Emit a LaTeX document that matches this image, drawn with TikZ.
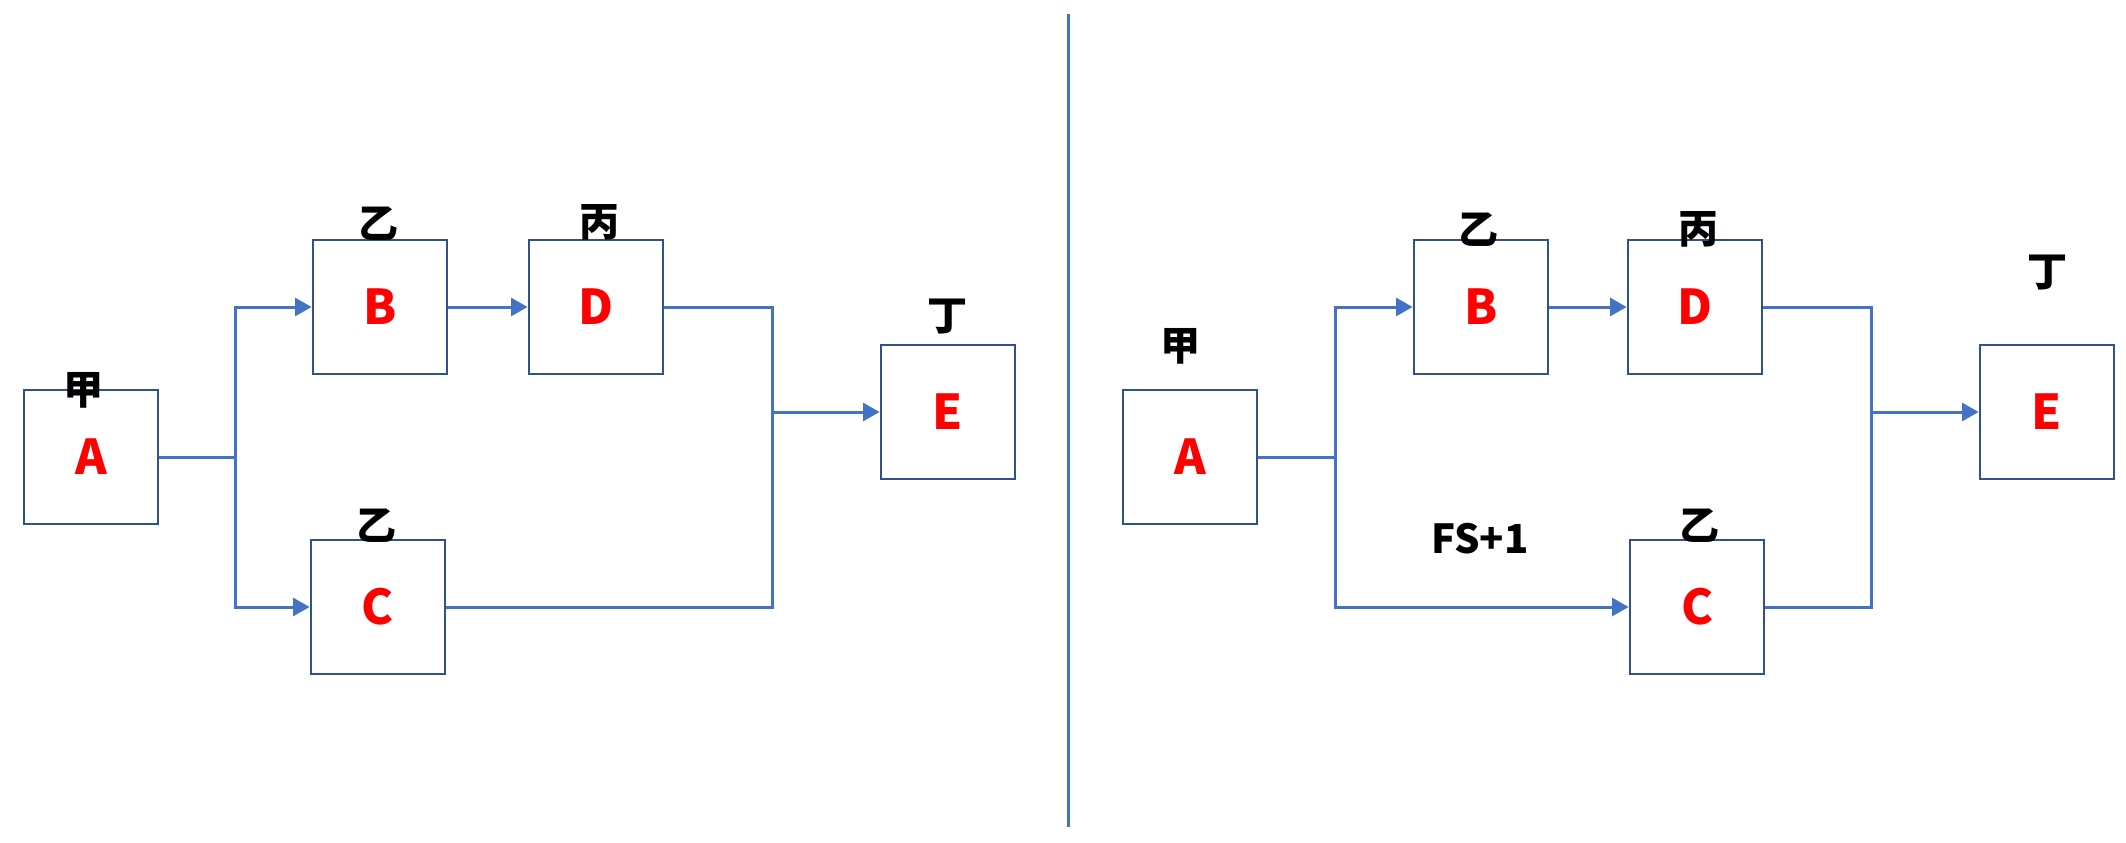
\documentclass[tikz,border=0pt]{standalone}
\usepackage{fontspec}
\setmainfont{Noto Sans CJK SC}
\usetikzlibrary{arrows.meta}
\definecolor{linec}{RGB}{68,114,196}
\definecolor{boxc}{RGB}{47,82,143}
\begin{document}
\begin{tikzpicture}
	[x=0.75pt,y=-0.75pt,%
	  task/.style={shape=rectangle,draw=boxc,line width=1.5pt,minimum width=101pt,minimum height=101pt,
	    inner sep=0pt,text=red,font=\fontsize{36}{36}\selectfont\bfseries},
	  tag/.style={inner sep=0pt,font=\fontsize{30}{30}\selectfont\bfseries},
	  conn/.style={draw=linec,line width=2.25pt},
	  flow/.style={conn,-{Triangle[length=12.5pt,width=13.5pt]}}]
	\useasboundingbox (0,0) rectangle (2126,842);
	% left network
	\node[task] (A1) at (91,457) {A};
	\node[task] (B1) at (380,307) {B};
	\node[task] (D1) at (596,307) {D};
	\node[task] (C1) at (378,607) {C};
	\node[task] (E1) at (948,412) {E};
	\node[tag] (tA1) at (83,390) {甲};
	\node[tag] (tB1) at (378,224) {乙};
	\node[tag] (tD1) at (599,222) {丙};
	\node[tag] (tC1) at (376,526) {乙};
	\node[tag] (tE1) at (947,317) {丁};
	\coordinate (s1) at (235,457);
	\coordinate (m1) at (772,412);
	\draw[conn] (A1) -- (s1);
	\draw[flow] (s1) |- (B1);
	\draw[flow] (s1) |- (C1);
	\draw[flow] (B1) -- (D1);
	\draw[conn] (D1) -| (m1);
	\draw[conn] (C1) -| (m1);
	\draw[flow] (m1) -- (E1);
	% divider
	\coordinate (top) at (1068,14);
	\coordinate (bot) at (1068,827);
	\draw[conn] (top) -- (bot);
	% right network
	\node[task] (A2) at (1190,457) {A};
	\node[task] (B2) at (1481,307) {B};
	\node[task] (D2) at (1695,307) {D};
	\node[task] (C2) at (1697,607) {C};
	\node[task] (E2) at (2047,412) {E};
	\node[tag] (tA2) at (1180,346) {甲};
	\node[tag] (tB2) at (1478,230) {乙};
	\node[tag] (tD2) at (1698,229) {丙};
	\node[tag] (tC2) at (1699,526) {乙};
	\node[tag] (tE2) at (2047,273) {丁};
	\node[tag] (fs) at (1480,539) {FS+1};
	\coordinate (s2) at (1335,457);
	\coordinate (m2) at (1871,412);
	\draw[conn] (A2) -- (s2);
	\draw[flow] (s2) |- (B2);
	\draw[flow] (s2) |- (C2);
	\draw[flow] (B2) -- (D2);
	\draw[conn] (D2) -| (m2);
	\draw[conn] (C2) -| (m2);
	\draw[flow] (m2) -- (E2);
\end{tikzpicture}
\end{document}
